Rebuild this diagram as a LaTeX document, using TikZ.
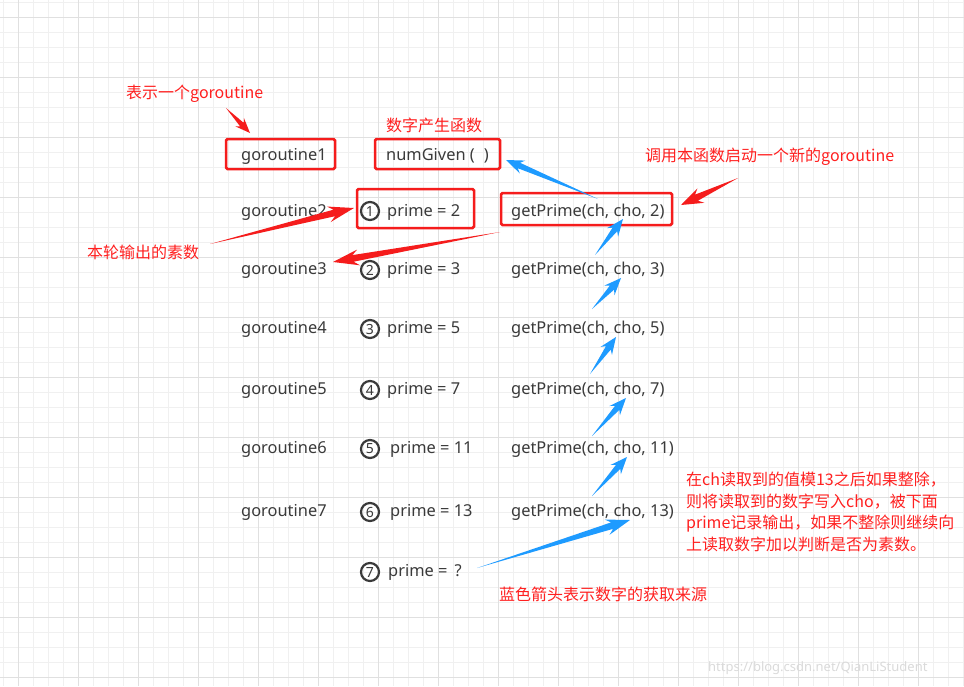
\documentclass[tikz,border=0pt]{standalone}
\usepackage{fontspec}
\setmainfont{Noto Sans}
\newfontfamily\cjk{Noto Sans CJK SC}
\usepackage{xcolor}
\usetikzlibrary{calc}
\definecolor{notered}{RGB}{255,32,32}
\definecolor{boxred}{RGB}{245,28,28}
\definecolor{arrowblue}{RGB}{30,155,255}
\definecolor{textgray}{RGB}{58,58,58}
\definecolor{gridminor}{RGB}{240,240,240}
\definecolor{gridmajor}{RGB}{224,224,224}
\definecolor{markgray}{RGB}{218,218,218}

% tapered annotation arrow: colour, from, to, head length, wing
\newcommand{\pointer}[5]{%
  \pgfmathsetmacro{\pjl}{0.78*#4}
  \pgfmathsetmacro{\psw}{0.42*#5}
  \coordinate (ph) at ($(#3)!#4pt!(#2)$);
  \coordinate (pj) at ($(#3)!\pjl pt!(#2)$);
  \fill[#1] (#2) -- ($(pj)!\psw pt!90:(#3)$) -- ($(ph)!#5pt!90:(#3)$) -- (#3)
    -- ($(ph)!#5pt!-90:(#3)$) -- ($(pj)!\psw pt!-90:(#3)$) -- cycle;
}

\begin{document}
\begin{tikzpicture}[x=1pt,y=-1pt,
  code/.style={anchor=west, inner sep=0pt, yshift=-2pt, text=textgray, font=\fontsize{16.4}{19}\selectfont},
  num/.style={circle, draw=textgray, line width=2.2pt, minimum size=18pt, inner sep=0pt,
    text=textgray, font=\bfseries\fontsize{14}{14}\selectfont},
  note/.style={anchor=west, inner sep=0pt, yshift=-2pt, text=notered, font=\cjk\fontsize{16}{19}\selectfont},
  redbox/.style={draw=boxred, line width=2.5pt, rounded corners=1.5pt}]
  \useasboundingbox (0,0) rectangle (964,686);
  \fill[white] (0,0) rectangle (964,686);
  \foreach \gx in {3,18,...,963} \draw[gridminor] (\gx,0) -- (\gx,686);
  \foreach \gy in {2,17,...,677} \draw[gridminor] (0,\gy) -- (964,\gy);
  \foreach \gx in {18,78,...,918} \draw[gridmajor] (\gx,0) -- (\gx,686);
  \foreach \gy in {17,77,...,677} \draw[gridmajor] (0,\gy) -- (964,\gy);

  \node[note] (lblgo) at (126,92) {表示一个goroutine};
  \node[note] (lblnum) at (386,123) {数字产生函数};
  \node[note] (lblcall) at (645,155) {调用本函数启动一个新的goroutine};
  \node[note] (lblout) at (87,250) {本轮输出的素数};
  \node[note, align=left, font=\cjk\fontsize{16}{21.7}\selectfont] (lblmod) at (686,510)
    {在ch读取到的值模13之后如果整除，\\则将读取到的数字写入cho，被下面\\prime记录输出，如果不整除则继续向\\上读取数字加以判断是否为素数。};
  \node[note] (lblblue) at (499,592) {蓝色箭头表示数字的获取来源};

  \node[code] (go1) at (241,154) {goroutine1};
  \node[code] (gen) at (386,154) {numGiven (\hspace{9pt})};
  \foreach \r/\gy in {2/210,3/268,4/327,5/388,6/447,7/510}
    \node[code] (go\r) at (241,\gy) {goroutine\r};

  \node[num] (c1) at (370,211) {1};
  \node[num] (c2) at (370,270) {2};
  \node[num] (c3) at (370,329) {3};
  \node[num] (c4) at (370,390) {4};
  \node[num] (c5) at (370,449) {5};
  \node[num] (c6) at (370,512) {6};
  \node[num] (c7) at (370,572) {7};
  \node[code] (p1) at (387,210) {prime = 2};
  \node[code] (p2) at (387,268) {prime = 3};
  \node[code] (p3) at (387,327) {prime = 5};
  \node[code] (p4) at (387,388) {prime = 7};
  \node[code] (p5) at (390,447) {prime = 11};
  \node[code] (p6) at (390,510) {prime = 13};
  \node[code] (p7) at (388,570) {prime = \,?};

  \node[code] (gp1) at (511,210) {getPrime(ch, cho, 2)};
  \node[code] (gp2) at (511,268) {getPrime(ch, cho, 3)};
  \node[code] (gp3) at (511,327) {getPrime(ch, cho, 5)};
  \node[code] (gp4) at (511,388) {getPrime(ch, cho, 7)};
  \node[code] (gp5) at (511,447) {getPrime(ch, cho, 11)};
  \node[code] (gp6) at (511,510) {getPrime(ch, cho, 13)};

  \draw[redbox] (226,139) rectangle (335,169);
  \draw[redbox] (375,139) rectangle (500,169);
  \draw[redbox] (357,189) rectangle (474,228);
  \draw[redbox] (501,193) rectangle (672,225);

  \coordinate (r1s) at (226,108);
  \coordinate (r1e) at (250,133);
  \coordinate (r2s) at (738,178);
  \coordinate (r2e) at (681,205);
  \coordinate (r3s) at (210,244);
  \coordinate (r3e) at (354,208);
  \coordinate (r4s) at (500,232);
  \coordinate (r4e) at (333,262);
  \pointer{boxred}{r1s}{r1e}{15}{6}
  \pointer{boxred}{r2s}{r2e}{22}{8}
  \pointer{boxred}{r3s}{r3e}{26}{8}
  \pointer{boxred}{r4s}{r4e}{26}{8}

  \coordinate (b0s) at (598,199);
  \coordinate (b0e) at (506,160);
  \coordinate (b1s) at (595,255);
  \coordinate (b1e) at (623,219);
  \coordinate (b2s) at (592,309);
  \coordinate (b2e) at (621,278);
  \coordinate (b3s) at (590,374);
  \coordinate (b3e) at (616,337);
  \coordinate (b4s) at (592,436);
  \coordinate (b4e) at (626,398);
  \coordinate (b5s) at (592,496);
  \coordinate (b5e) at (627,457);
  \coordinate (b6s) at (477,568);
  \coordinate (b6e) at (630,520);
  \pointer{arrowblue}{b0s}{b0e}{18}{7}
  \foreach \b in {1,...,5} {\pointer{arrowblue}{b\b s}{b\b e}{17}{7}}
  \pointer{arrowblue}{b6s}{b6e}{24}{8}

  \node[anchor=west, inner sep=0pt, text=markgray, font=\fontsize{13}{15}\selectfont] (mark) at (708,668) {https://blog.csdn.net/QianLiStudent};
\end{tikzpicture}
\end{document}
